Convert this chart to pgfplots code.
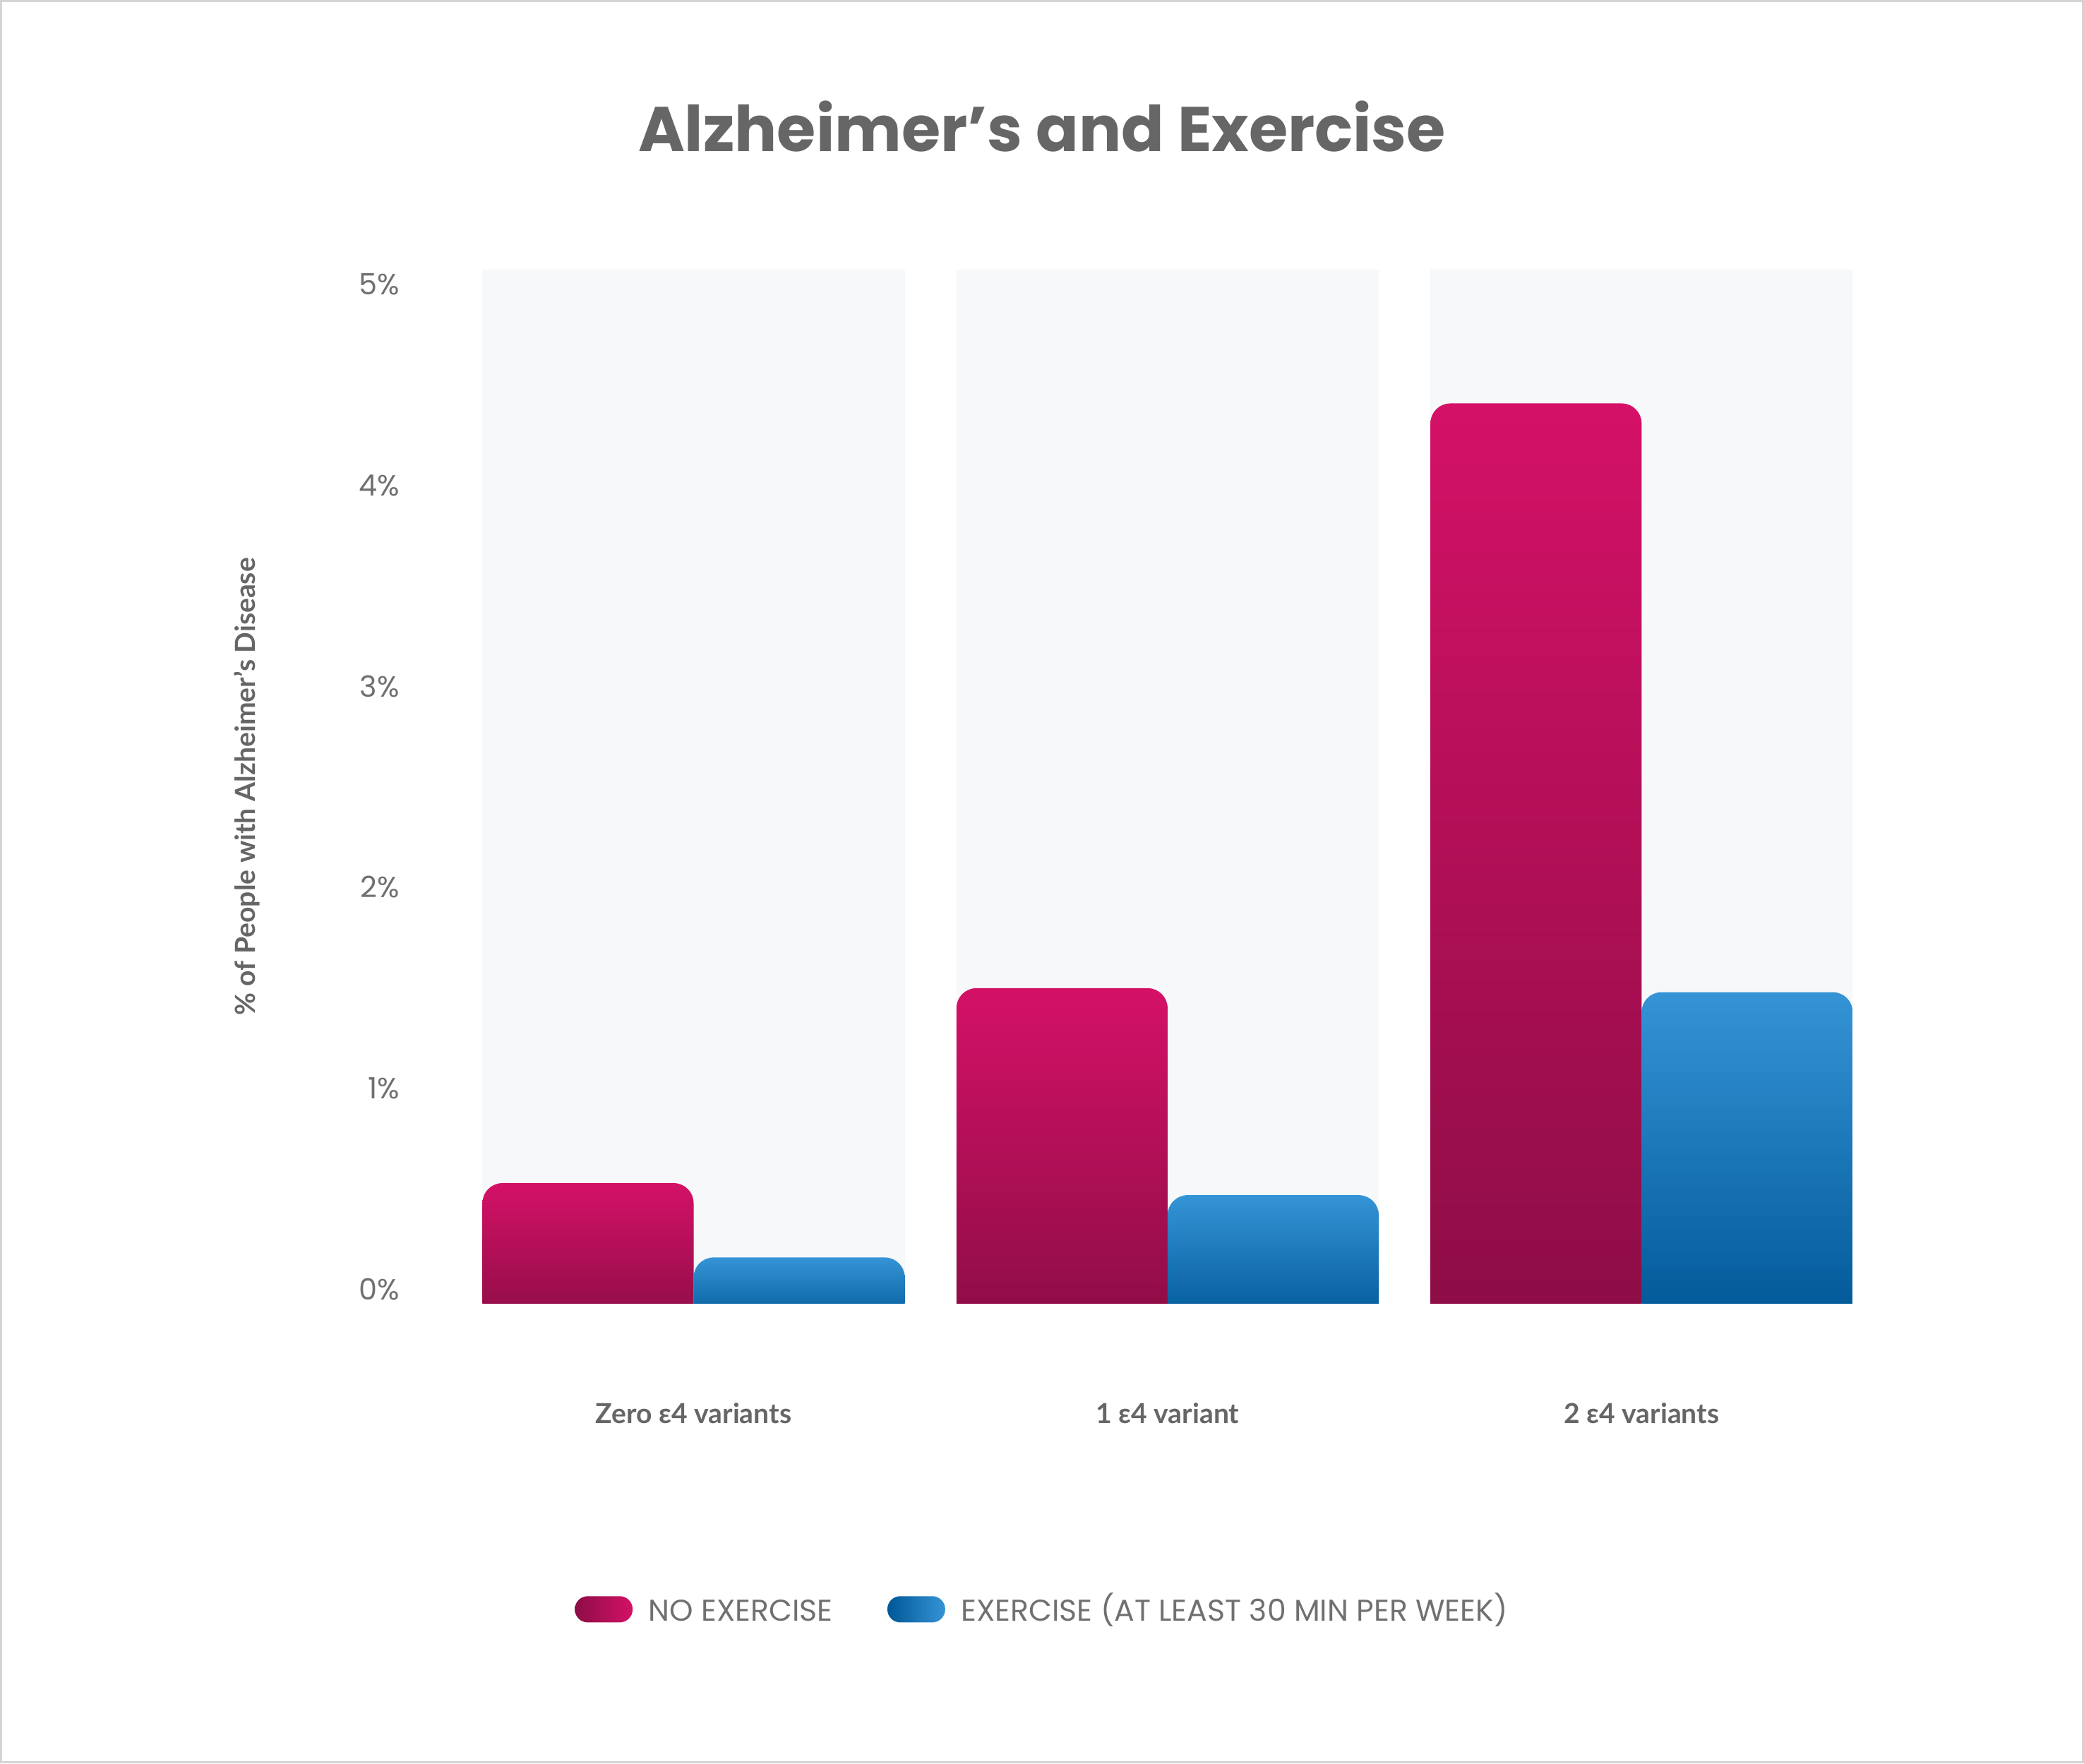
\documentclass[border=0pt]{standalone}
\usepackage{pgfplots}
\pgfplotsset{compat=1.18}
\usepackage{fontspec}
\setmainfont{Lato}
\newfontfamily\poppins{Poppins}
\definecolor{pinktop}{HTML}{D41167}
\definecolor{pinkbot}{HTML}{8C0D45}
\definecolor{bluetop}{HTML}{3594D6}
\definecolor{bluebot}{HTML}{005796}
\definecolor{panel}{HTML}{F7F8FA}
\definecolor{txt}{HTML}{666666}
\definecolor{ticktxt}{HTML}{707070}
\definecolor{framec}{HTML}{D4D4D4}
\pgfplotsset{
  pinkbar/.style={draw=none, top color=pinktop, bottom color=pinkbot, rounded corners=6pt,
    legend image code/.code={\shade[left color=pinkbot, right color=pinktop, rounded corners=3.9pt] (0pt,-3.95pt) rectangle (17.4pt,3.95pt);}},
  bluebar/.style={draw=none, top color=bluetop, bottom color=bluebot, rounded corners=6pt,
    legend image code/.code={\shade[left color=bluebot, right color=bluetop, rounded corners=3.9pt] (0pt,-3.95pt) rectangle (17.4pt,3.95pt);}},
}
\begin{document}
\begin{tikzpicture}
\useasboundingbox (0pt,0pt) rectangle (627.2pt,530.8pt);
\draw[framec, line width=0.6pt] (0.3pt,0.3pt) rectangle (626.9pt,530.5pt);
\begin{axis}[
  at={(145.2pt,138.4pt)}, anchor=south west,
  scale only axis, width=412.4pt, height=311.2pt,
  xmin=-0.4455, xmax=2.4455,
  ymin=0, ymax=5.145,
  axis line style={draw=none},
  major tick length=0pt,
  ytick={0,1,2,3,4,5},
  yticklabels={0\%,1\%,2\%,3\%,4\%,5\%},
  yticklabel style={anchor=base east, inner sep=0pt, xshift=-24.8pt, yshift=1.2pt, font=\poppins\fontsize{8.8}{10}\selectfont, text=ticktxt},
  xtick={0,1,2},
  xticklabels={Zero ε4 variants, 1 ε4 variant, 2 ε4 variants},
  xticklabel style={anchor=base, inner sep=0pt, yshift=-36pt, font=\bfseries\fontsize{8.3}{10}\selectfont, text=txt},
  ylabel={\% of People with Alzheimer’s Disease},
  every axis y label/.style={at={(axis description cs:-0.1717,0.5)}, rotate=90, anchor=center, font=\bfseries\fontsize{8.3}{10}\selectfont, text=txt},
  legend style={at={(axis description cs:0.4102,-0.2956)}, anchor=center, draw=none, fill=none, legend columns=2, column sep=2.8pt, font=\poppins\fontsize{9.05}{11}\selectfont, text=ticktxt, /tikz/every even column/.append style={column sep=14.4pt}},
  clip=true,
]
\fill[panel] ({axis cs:-0.4455,0}|-{rel axis cs:0,0}) rectangle ({axis cs:0.4455,0}|-{rel axis cs:0,1});
\fill[panel] ({axis cs:0.5545,0}|-{rel axis cs:0,0}) rectangle ({axis cs:1.4455,0}|-{rel axis cs:0,1});
\fill[panel] ({axis cs:1.5545,0}|-{rel axis cs:0,0}) rectangle ({axis cs:2.4455,0}|-{rel axis cs:0,1});
% NO EXERCISE: 0.60, 1.57, 4.48  (bars run from below the axis so the lower corners are clipped)
\addplot[pinkbar] coordinates {(-0.4455,-0.11) (-0.4455,0.60) (0,0.60) (0,-0.11)} -- cycle;
\addlegendentry{NO EXERCISE\vphantom{()}}
\addplot[pinkbar, forget plot] coordinates {(0.5545,-0.11) (0.5545,1.57) (1,1.57) (1,-0.11)} -- cycle;
\addplot[pinkbar, forget plot] coordinates {(1.5545,-0.11) (1.5545,4.48) (2,4.48) (2,-0.11)} -- cycle;
% EXERCISE: 0.23, 0.54, 1.55
\addplot[bluebar] coordinates {(0,-0.11) (0,0.23) (0.4455,0.23) (0.4455,-0.11)} -- cycle;
\addlegendentry{EXERCISE (AT LEAST 30 MIN PER WEEK)}
\addplot[bluebar, forget plot] coordinates {(1,-0.11) (1,0.54) (1.4455,0.54) (1.4455,-0.11)} -- cycle;
\addplot[bluebar, forget plot] coordinates {(2,-0.11) (2,1.55) (2.4455,1.55) (2.4455,-0.11)} -- cycle;
\end{axis}
\node[anchor=base, font=\poppins\bfseries\fontsize{19}{22}\selectfont, text=txt] at (313.6pt,485.2pt) {Alzheimer’s and Exercise};
\end{tikzpicture}
\end{document}
